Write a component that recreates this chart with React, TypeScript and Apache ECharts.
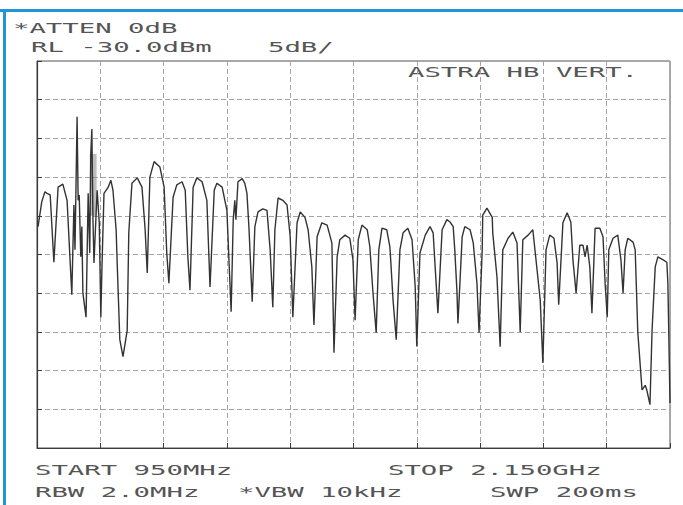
import React, { useEffect, useRef } from "react";
import * as echarts from "echarts";

// Analyzer settings
const START_MHZ = 950;
const STOP_MHZ = 2150;
const MHZ_PER_DIV = 120;
const REF_LEVEL_DBM = -30;
const DB_PER_DIV = 5;
const DIVISIONS = 10;

// Trace: frequency (MHz) and level (dBm)
const freqMHz = [
  952, 959, 965, 969, 975, 982, 990, 999, 1007, 1016,
  1020, 1022, 1026, 1028, 1030, 1033, 1035, 1037, 1043, 1047,
  1050, 1052, 1054, 1056, 1058, 1064, 1068, 1071, 1073, 1077,
  1085, 1090, 1094, 1100, 1102, 1107, 1113, 1121, 1124, 1130,
  1140, 1149, 1155, 1159, 1164, 1172, 1183, 1191, 1196, 1200,
  1208, 1215, 1225, 1231, 1236, 1240, 1246, 1253, 1263, 1272,
  1278, 1286, 1291, 1301, 1310, 1318, 1322, 1325, 1327, 1331,
  1339, 1344, 1348, 1352, 1358, 1363, 1369, 1378, 1386, 1392,
  1397, 1401, 1407, 1416, 1424, 1430, 1435, 1443, 1449, 1458,
  1464, 1471, 1475, 1481, 1490, 1500, 1509, 1513, 1519, 1524,
  1534, 1543, 1549, 1553, 1559, 1566, 1576, 1581, 1587, 1593,
  1598, 1604, 1613, 1619, 1625, 1631, 1638, 1644, 1653, 1661,
  1667, 1670, 1676, 1686, 1695, 1701, 1704, 1710, 1718, 1727,
  1733, 1739, 1742, 1746, 1748, 1756, 1761, 1771, 1777, 1784,
  1788, 1794, 1795, 1803, 1813, 1814, 1822, 1828, 1833, 1843,
  1852, 1860, 1866, 1871, 1881, 1890, 1898, 1904, 1909, 1915,
  1922, 1930, 1936, 1939, 1947, 1955, 1962, 1966, 1972, 1979,
  1985, 1989, 1993, 1998, 2002, 2008, 2017, 2023, 2027, 2031,
  2034, 2042, 2051, 2057, 2061, 2065, 2070, 2080, 2084, 2089,
  2097, 2103, 2106, 2112, 2116, 2122, 2127, 2137, 2144, 2146,
  2150,
];
const levelDbm = [
  -51.4, -48.2, -46.9, -47.1, -47.3, -56.0, -46.3, -45.9, -48.0, -60.2,
  -48.6, -54.4, -37.2, -48.0, -47.3, -55.3, -51.4, -60.0, -63.1, -47.1,
  -54.8, -41.9, -38.8, -50.2, -56.1, -46.7, -50.9, -63.1, -57.0, -47.1,
  -46.3, -45.4, -46.7, -51.8, -56.1, -66.0, -68.2, -64.8, -52.2, -45.8,
  -45.1, -46.3, -51.8, -57.4, -45.0, -43.0, -43.7, -46.3, -54.8, -58.7,
  -47.6, -46.0, -45.6, -46.7, -55.3, -59.6, -46.3, -45.1, -45.6, -48.0,
  -59.2, -46.7, -45.8, -46.3, -49.3, -62.4, -50.5, -48.0, -50.5, -45.6,
  -45.2, -45.8, -47.1, -51.8, -61.1, -51.4, -49.5, -49.1, -49.3, -54.4,
  -61.8, -51.8, -47.7, -48.0, -48.6, -52.7, -63.1, -50.9, -49.5, -50.2,
  -51.8, -56.6, -64.1, -52.7, -50.9, -51.2, -53.5, -67.7, -55.3, -53.1,
  -52.5, -52.9, -55.7, -63.5, -53.1, -51.2, -51.8, -54.0, -60.0, -65.1,
  -54.4, -51.6, -51.8, -54.0, -60.9, -66.0, -54.4, -52.2, -51.6, -53.1,
  -59.2, -66.9, -54.8, -52.5, -51.4, -52.2, -55.7, -62.6, -51.8, -50.5,
  -50.8, -51.4, -54.4, -59.6, -63.9, -52.7, -51.4, -51.8, -53.5, -58.7,
  -65.1, -54.4, -49.9, -49.0, -50.2, -52.2, -57.9, -66.9, -54.4, -52.9,
  -52.1, -53.5, -65.0, -53.1, -52.5, -51.8, -57.0, -60.9, -69.0, -54.4,
  -52.5, -52.9, -56.1, -61.5, -50.9, -49.6, -50.8, -55.7, -60.0, -53.8,
  -53.8, -55.3, -53.8, -56.6, -62.6, -51.6, -51.6, -52.7, -58.7, -63.1,
  -54.4, -52.9, -52.5, -55.7, -60.0, -54.4, -52.9, -53.4, -54.4, -65.1,
  -72.5, -71.9, -72.5, -74.4, -64.8, -56.6, -55.3, -55.7, -56.0, -58.7,
  -74.2,
];

// Noisy shaded burst near 1.05 GHz
const noiseBandMHz = [1050, 1063];
const noiseBandDbm = [-42, -50];

// Annotations
const headerLines = ["*ATTEN 0dB", "RL -30.0dBm", "5dB/"];
const traceLabel = "ASTRA HB VERT.";
const footerLines = ["START 950MHz", "STOP 2.150GHz", "RBW 2.0MHz", "*VBW 10kHz", "SWP 200ms"];

const FONT = '"DejaVu Sans Mono", monospace';
const TEXT_COLOR = "#555555";
const SX = 1.95;

function label(text: string, x: number, y: number) {
  return {
    type: "text",
    x,
    y,
    scaleX: SX,
    silent: true,
    style: {
      text,
      fontSize: 14,
      fontFamily: FONT,
      fill: TEXT_COLOR,
      align: "left",
      verticalAlign: "middle",
    },
  };
}

export default function App() {
  const ref = useRef<HTMLDivElement>(null);

  useEffect(() => {
    document.body.style.margin = "0";
    document.body.style.background = "#ffffff";
    if (!ref.current) return;
    const chart = echarts.init(ref.current, undefined, { renderer: "svg" });
    const span = STOP_MHZ - START_MHZ;
    const bottom = REF_LEVEL_DBM - DB_PER_DIV * DIVISIONS;
    chart.setOption({
      animation: false,
      backgroundColor: "#ffffff",
      grid: {
        left: 37,
        right: 13,
        top: 61,
        bottom: 57,
        show: true,
        borderColor: "#555555",
        borderWidth: 1,
        backgroundColor: "transparent",
      },
      xAxis: {
        type: "value",
        min: 0,
        max: span,
        interval: MHZ_PER_DIV,
        axisLabel: { show: false },
        axisLine: { show: true, lineStyle: { color: "#3a3a3a", width: 1.2 } },
        axisTick: { show: true, inside: true, length: 5, lineStyle: { color: "#3a3a3a" } },
        splitLine: { show: true, lineStyle: { color: "#a4a4a4", width: 1, type: [5, 3] } },
      },
      yAxis: {
        type: "value",
        min: bottom,
        max: REF_LEVEL_DBM,
        interval: DB_PER_DIV,
        axisLabel: { show: false },
        axisLine: { show: true, lineStyle: { color: "#3a3a3a", width: 1.2 } },
        axisTick: { show: true, inside: true, length: 5, lineStyle: { color: "#3a3a3a" } },
        splitLine: { show: true, lineStyle: { color: "#a4a4a4", width: 1, type: [5, 3] } },
      },
      series: [
        {
          type: "line",
          data: freqMHz.map((f, i) => [f - START_MHZ, levelDbm[i]]),
          showSymbol: false,
          silent: true,
          lineStyle: { color: "#333333", width: 1.4 },
          markArea: {
            silent: true,
            itemStyle: { color: "rgba(110,110,110,0.45)" },
            data: [
              [
                { coord: [noiseBandMHz[0] - START_MHZ, noiseBandDbm[0]] },
                { coord: [noiseBandMHz[1] - START_MHZ, noiseBandDbm[1]] },
              ],
            ],
          },
        },
      ],
      graphic: [
        { type: "rect", silent: true, shape: { x: 0, y: 9, width: 683, height: 3 }, style: { fill: "#1f97d6" } },
        { type: "rect", silent: true, shape: { x: 3, y: 9, width: 3, height: 496 }, style: { fill: "#1f97d6" } },
        label(headerLines[0], 13, 28),
        label(headerLines[1], 31, 47),
        label(headerLines[2], 268, 47),
        label(traceLabel, 408, 72),
        label(footerLines[0], 35, 470),
        label(footerLines[1], 388, 470),
        label(footerLines[2], 35, 492),
        label(footerLines[3], 238, 492),
        label(footerLines[4], 490, 492),
      ],
    });
    return () => chart.dispose();
  }, []);

  return <div ref={ref} style={{ width: 683, height: 505 }} />;
}
